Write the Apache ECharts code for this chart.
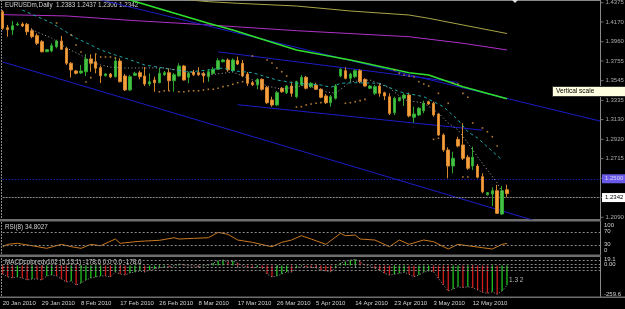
<!DOCTYPE html>
<html><head><meta charset="utf-8">
<script src="https://cdn.jsdelivr.net/npm/echarts@6/dist/echarts.min.js"></script>
<style>html,body{margin:0;padding:0;background:#000;}#c{width:625px;height:309px;}</style>
</head><body><div id="c"></div>
<script>
const dates = ['20 Jan 2010','21 Jan 2010','22 Jan 2010','24 Jan 2010','25 Jan 2010','26 Jan 2010','27 Jan 2010','28 Jan 2010','29 Jan 2010','31 Jan 2010',
'1 Feb 2010','2 Feb 2010','3 Feb 2010','4 Feb 2010','5 Feb 2010','7 Feb 2010','8 Feb 2010','9 Feb 2010','10 Feb 2010','11 Feb 2010',
'12 Feb 2010','14 Feb 2010','15 Feb 2010','16 Feb 2010','17 Feb 2010','18 Feb 2010','19 Feb 2010','21 Feb 2010','22 Feb 2010','23 Feb 2010',
'24 Feb 2010','25 Feb 2010','26 Feb 2010','28 Feb 2010','1 Mar 2010','2 Mar 2010','3 Mar 2010','4 Mar 2010','5 Mar 2010','7 Mar 2010',
'8 Mar 2010','9 Mar 2010','10 Mar 2010','11 Mar 2010','12 Mar 2010','14 Mar 2010','15 Mar 2010','16 Mar 2010','17 Mar 2010','18 Mar 2010',
'19 Mar 2010','21 Mar 2010','22 Mar 2010','23 Mar 2010','24 Mar 2010','25 Mar 2010','26 Mar 2010','28 Mar 2010','29 Mar 2010','30 Mar 2010',
'31 Mar 2010','1 Apr 2010','2 Apr 2010','4 Apr 2010','5 Apr 2010','6 Apr 2010','7 Apr 2010','8 Apr 2010','9 Apr 2010','11 Apr 2010',
'12 Apr 2010','13 Apr 2010','14 Apr 2010','15 Apr 2010','16 Apr 2010','18 Apr 2010','19 Apr 2010','20 Apr 2010','21 Apr 2010','22 Apr 2010',
'23 Apr 2010','25 Apr 2010','26 Apr 2010','27 Apr 2010','28 Apr 2010','29 Apr 2010','30 Apr 2010','2 May 2010','3 May 2010','4 May 2010',
'5 May 2010','6 May 2010','7 May 2010','9 May 2010','10 May 2010','11 May 2010','12 May 2010','13 May 2010','14 May 2010','16 May 2010',
'17 May 2010','18 May 2010','19 May 2010','20 May 2010'];

const openP = [1.4279,1.4109,1.4085,1.4138,1.4148,1.4145,1.4077,1.4024,1.3960,1.3853,
1.3861,1.3907,1.3967,1.3890,1.3730,1.3648,1.3627,1.3640,1.3776,1.3747,
1.3683,1.3598,1.3616,1.3587,1.3754,1.3595,1.3446,1.3602,1.3630,1.3595,
1.3509,1.3552,1.3523,1.3608,1.3630,1.3545,1.3595,1.3701,1.3581,1.3637,
1.3630,1.3623,1.3587,1.3623,1.3666,1.3747,1.3765,1.3651,1.3758,1.3730,
1.3616,1.3523,1.3499,1.3559,1.3474,1.3339,1.3286,1.3464,1.3417,1.3488,
1.3374,1.3499,1.3581,1.3481,1.3499,1.3453,1.3382,1.3310,1.3357,1.3595,
1.3651,1.3570,1.3587,1.3651,1.3559,1.3464,1.3410,1.3488,1.3417,1.3374,
1.3204,1.3332,1.3357,1.3392,1.3155,1.3179,1.3225,1.3321,1.3304,1.3190,
1.2966,1.2807,1.2636,1.2920,1.2860,1.2729,1.2636,1.2636,1.2522,1.2330,
1.2338,1.2373,1.2125,1.2383];
const highP = [1.4297,1.4138,1.4180,1.4167,1.4167,1.4159,1.4103,1.4049,1.3978,1.3882,
1.3943,1.3981,1.4021,1.3907,1.3744,1.3659,1.3712,1.3826,1.3826,1.3826,
1.3701,1.3627,1.3627,1.3789,1.3783,1.3616,1.3605,1.3640,1.3651,1.3690,
1.3623,1.3587,1.3677,1.3648,1.3677,1.3627,1.3730,1.3712,1.3640,1.3659,
1.3687,1.3640,1.3666,1.3690,1.3783,1.3776,1.3783,1.3783,1.3800,1.3765,
1.3637,1.3541,1.3570,1.3570,1.3488,1.3374,1.3435,1.3477,1.3499,1.3534,
1.3545,1.3605,1.3595,1.3531,1.3523,1.3464,1.3403,1.3392,1.3509,1.3677,
1.3687,1.3630,1.3666,1.3666,1.3570,1.3499,1.3499,1.3517,1.3427,1.3410,
1.3374,1.3371,1.3410,1.3417,1.3268,1.3264,1.3332,1.3332,1.3321,1.3197,
1.2984,1.2835,1.2788,1.2948,1.3091,1.2753,1.2842,1.2657,1.2558,1.2359,
1.2409,1.2434,1.2423,1.2437];
const lowP = [1.4085,1.4013,1.4031,1.4130,1.4116,1.4031,1.3996,1.3925,1.3847,1.3850,
1.3847,1.3890,1.3872,1.3712,1.3577,1.3611,1.3616,1.3595,1.3640,1.3623,
1.3520,1.3589,1.3573,1.3577,1.3527,1.3435,1.3435,1.3595,1.3559,1.3488,
1.3488,1.3427,1.3517,1.3595,1.3438,1.3427,1.3587,1.3545,1.3517,1.3595,
1.3595,1.3523,1.3534,1.3611,1.3659,1.3738,1.3640,1.3640,1.3712,1.3581,
1.3488,1.3488,1.3453,1.3438,1.3296,1.3268,1.3275,1.3417,1.3403,1.3374,
1.3357,1.3488,1.3451,1.3467,1.3446,1.3357,1.3296,1.3268,1.3344,1.3581,
1.3559,1.3534,1.3573,1.3517,1.3481,1.3456,1.3392,1.3374,1.3339,1.3179,
1.3179,1.3323,1.3275,1.3155,1.3097,1.3169,1.3197,1.3286,1.3161,1.2956,
1.2788,1.2505,1.2558,1.2835,1.2700,1.2594,1.2594,1.2505,1.2345,1.2322,
1.2210,1.2125,1.2114,1.2306];
const closeP = [1.4103,1.4088,1.4130,1.4148,1.4127,1.4066,1.4013,1.3943,1.3853,1.3875,
1.3917,1.3967,1.3879,1.3730,1.3659,1.3623,1.3648,1.3776,1.3730,1.3677,
1.3598,1.3616,1.3584,1.3754,1.3534,1.3446,1.3587,1.3623,1.3587,1.3509,
1.3534,1.3523,1.3623,1.3630,1.3545,1.3608,1.3701,1.3552,1.3623,1.3608,
1.3608,1.3595,1.3640,1.3666,1.3758,1.3765,1.3659,1.3765,1.3722,1.3595,
1.3517,1.3502,1.3559,1.3453,1.3310,1.3286,1.3417,1.3427,1.3488,1.3410,
1.3534,1.3581,1.3464,1.3517,1.3453,1.3368,1.3310,1.3374,1.3488,1.3666,
1.3570,1.3616,1.3651,1.3534,1.3488,1.3488,1.3481,1.3410,1.3382,1.3197,
1.3357,1.3363,1.3392,1.3169,1.3190,1.3251,1.3304,1.3296,1.3179,1.2966,
1.2807,1.2636,1.2718,1.2849,1.2718,1.2612,1.2729,1.2516,1.2362,1.2352,
1.2373,1.2132,1.2373,1.2342];

// moving averages / trend lines as [bar index, price]
const maOlive = [[35,1.4420],[42,1.4386],[48,1.4369],[60,1.4340],[71,1.4287],[83,1.4244],[87,1.4209],[94,1.4138],[103,1.4047]];
const maMagenta = [[0,1.4248],[13,1.4234],[27,1.4184],[40,1.4145],[60,1.4077],[83,1.4013],[94,1.3943],[103,1.3872]];
const maGreen = [[20,1.4470],[26,1.4404],[42,1.4156],[47,1.4085],[60,1.3872],[71,1.3765],[83,1.3630],[87,1.3605],[94,1.3481],[103,1.3353]];
const trendLong = [[20,1.4405],[122,1.3115]];
const trendUpper = [[44,1.3852],[93,1.3527]];
const trendMiddle = [[48,1.3289],[98,1.3018]];
const trendLower = [[0,1.3744],[110,1.2033]];
const tealBand = [[4,1.4297],[10,1.4159],[12,1.4095],[15,1.3999],[18,1.3925],[20,1.3872],[23,1.3818],[25,1.3786],[29,1.3712],[34,1.3669],[38,1.3637],[42,1.3659],[45,1.3680],[47,1.3651],[51,1.3630],[56,1.3552],[60,1.3517],[65,1.3499],[67,1.3474],[69,1.3517],[72,1.3523],[77,1.3517],[81,1.3427],[86,1.3374],[90,1.3268],[93,1.3126],[95,1.3001],[97,1.2934],[102,1.2700]];
const grayMA = [[6,1.4085],[10,1.3999],[13,1.3893],[16,1.3818],[18,1.3744],[20,1.3712],[22,1.3690],[25,1.3680],[33,1.3680],[38,1.3637],[42,1.3605],[47,1.3637],[52,1.3534],[54,1.3488],[57,1.3453],[62,1.3499],[66,1.3427],[68,1.3410],[71,1.3534],[75,1.3552],[79,1.3467],[82,1.3339],[86,1.3307],[89,1.3201],[91,1.3094],[93,1.3020],[95,1.2881],[97,1.2732],[99,1.2594],[101,1.2455],[102,1.2359]];
const sarDots = [[11,1.4159],[14,1.4031],[15,1.3925],[16,1.3850],[17,1.3531],[18,1.3577],[19,1.3829],[20,1.3797],[21,1.3797],[22,1.3797],[23,1.3786],
[32,1.3427],[33,1.3437],[34,1.3437],[36,1.3427],[37,1.3427],[38,1.3435],[39,1.3437],[40,1.3437],[41,1.3445],[42,1.3453],[43,1.3453],[44,1.3464],[45,1.3481],[46,1.3491],[47,1.3506],[48,1.3523],[49,1.3534],[50,1.3545],
[51,1.3808],[54,1.3765],[55,1.3733],[56,1.3680],[57,1.3640],[58,1.3595],
[60,1.3264],[61,1.3268],[62,1.3286],[63,1.3296],[64,1.3304],[65,1.3311],[66,1.3321],[70,1.3304],[71,1.3311],[72,1.3321],[73,1.3332],[74,1.3346],
[80,1.3659],[81,1.3623],[82,1.3605],[83,1.3595],[84,1.3587],[85,1.3534],[86,1.3509],[87,1.3488],[89,1.3410],[91,1.3304],
[88,1.2920],[89,1.2931],[92,1.3517],[93,1.3509],[94,1.3410],[95,1.3368],[96,1.3094],[98,1.3041],[99,1.3001],[100,1.2948],[101,1.2849],[94,1.2519],[95,1.2519]];
const bidPrice = 1.2342;
const alertPrice = 1.2500;
const priceTicks = ['1.4375','1.4170','1.3960','1.3755','1.3545','1.3335','1.3130','1.2920','1.2715','1.2505','1.2300','1.2090'];

const rsiPts = [[0,24.6],[1,32.1],[3,35.3],[6,27.7],[9,19.5],[12,32.1],[14,24.6],[16,19.5],[18,32.1],[20,27.7],[23,48.8],[24,35.3],[27,40.3],[29,42.5],[32,44.7],[35,52.9],[36,48.8],[39,51.0],[42,52.9],[44,69.9],[46,63.6],[48,45.7],[51,38.4],[54,27.7],[55,24.6],[57,38.4],[59,45.7],[61,59.2],[63,48.8],[66,32.1],[69,66.8],[70,59.2],[72,61.4],[73,48.8],[76,45.7],[79,24.6],[81,45.7],[83,32.1],[86,45.7],[88,40.3],[91,17.3],[93,32.1],[95,27.7],[98,21.4],[100,17.3],[102,32.1],[103,34.8]];
const rsiLevels = [70, 30];

// MACD (5,13,1): signal period 1, so the signal line equals the main line
const macdHist = [-76.6,-100.9,-112.6,-103.6,-112.6,-130.6,-121.6,-121.6,-130.6,-94.6,
-85.6,-94.6,-121.6,-148.7,-139.7,-175.7,-157.7,-130.6,-112.6,-103.6,
-94.6,-94.6,-103.6,-58.6,-76.6,-85.6,-67.6,-58.6,-49.6,-58.6,
-40.5,-31.5,-22.5,-13.5,-13.5,-4.5,13.5,4.5,-4.5,-4.5,
-9,-4.5,4.5,22.5,40.5,49.6,31.5,40.5,22.5,-4.5,
-13.5,-22.5,-13.5,-22.5,-76.6,-103.6,-94.6,-76.6,-58.6,-58.6,
-22.5,-4.5,-13.5,-13.5,-22.5,-40.5,-49.6,-55.9,-22.5,22.5,
34.2,49.6,55.9,34.2,4.5,-2,-25.2,-40.5,-70.3,-85.6,
-79.3,-70.3,-61.3,-79.3,-100.9,-85.6,-61.3,-49.6,-55.9,-115.3,
-175.7,-229.8,-211.7,-191,-200,-191,-200,-220.7,-241.5,-250.5,
-236.1,-259.6,-229.8,-178.6];
const macdLevels = [43.2, 13.5, -16.2, -46.9];

const EXTRA = 19;
const cats = dates.concat(Array.from({length: EXTRA}, (_, i) => '_' + i));
const lastIdx = cats.length - 1;
const candleData = openP.map((o, i) => [o, closeP[i], lowP[i], highP[i]]);
const F = '"Liberation Sans", Arial, sans-serif';
const TXT = '#d2d2d2';

const chart = echarts.init(document.getElementById('c'), null, {renderer: 'canvas', width: 625, height: 309});

const gridBase = {left: 2.7, width: 597.3, outerBoundsMode: 'none', containLabel: false};
const xBase = (gi, showLabels) => ({
  type: 'category', gridIndex: gi, data: cats, boundaryGap: false,
  axisLine: {show: false}, splitLine: {show: false},
  axisTick: {show: showLabels, interval: (i) => i % 8 === 0 && i <= 96, length: 2, inside: false, lineStyle: {color: '#9a9a9a'}},
  axisLabel: {show: showLabels, interval: (i) => i % 8 === 0 && i <= 96, align: 'left', margin: 4, color: TXT, fontSize: 6, fontFamily: F}
});

const lineS = (data, color, width, type, z) => ({
  type: 'line', xAxisIndex: 0, yAxisIndex: 0, data, symbol: 'none', silent: true, z: z || 3,
  lineStyle: {color, width, type: type || 'solid'}, clip: true
});

chart.setOption({
  backgroundColor: '#000',
  animation: false,
  grid: [
    Object.assign({top: 1, height: 218}, gridBase),
    Object.assign({top: 222.8, height: 31.7}, gridBase),
    Object.assign({top: 257, height: 39.5}, gridBase)
  ],
  xAxis: [xBase(0, false), xBase(1, false), xBase(2, true)],
  yAxis: [
    {type: 'value', gridIndex: 0, min: 1.20717, max: 1.43933, show: false, splitLine: {show: false}},
    {type: 'value', gridIndex: 1, min: 0, max: 100, show: false, splitLine: {show: false}},
    {type: 'value', gridIndex: 2, min: -279.3, max: 76.6, show: false, splitLine: {show: false}}
  ],
  series: [
    {
      type: 'candlestick', xAxisIndex: 0, yAxisIndex: 0, data: candleData, barWidth: 3, z: 5,
      itemStyle: {color: '#46c046', color0: '#f2a040', borderColor: '#2fa82f', borderColor0: '#d8862c', borderWidth: 1},
      markLine: {
        silent: true, symbol: 'none', animation: false,
        data: [
          {yAxis: alertPrice, lineStyle: {color: '#2a2aff', width: 1, type: [1, 2]},
           label: {formatter: alertPrice.toFixed(4), backgroundColor: '#6a5ae8', color: '#d8d8ff', padding: [2, 3, 1, 3]}},
          {yAxis: bidPrice, lineStyle: {color: '#8a8a8a', width: 1, type: [2, 1]},
           label: {formatter: bidPrice.toFixed(4), backgroundColor: '#ffffff', color: '#000', padding: [2, 3, 1, 3]}}
        ],
        label: {show: true, position: 'end', distance: 2, fontSize: 6, fontFamily: F}
      }
    },
    {
      type: 'scatter', xAxisIndex: 0, yAxisIndex: 0, silent: true, clip: false, z: 1,
      data: priceTicks.map(t => [lastIdx, parseFloat(t)]),
      symbol: 'rect', symbolSize: [3, 1], symbolOffset: [2, 0], itemStyle: {color: '#8a8a8a'},
      label: {show: true, position: 'right', distance: 2, color: TXT, fontSize: 6, fontFamily: F,
        formatter: (p) => priceTicks[p.dataIndex]}
    },
    lineS(maOlive, '#a9a448', 1),
    lineS(maMagenta, '#b030c8', 1),
    lineS(maGreen, '#2fe02f', 1.6, 'solid', 4),
    lineS(trendLong, '#1c1cc8', 1),
    lineS(trendUpper, '#1c1cc8', 1),
    lineS(trendMiddle, '#1c1cc8', 1),
    lineS(trendLower, '#1c1cc8', 1),
    lineS(tealBand, '#1aa8a8', 1, [3, 3], 6),
    lineS(grayMA, '#a8a8a8', 1, [1, 2.5], 6),
    {type: 'scatter', xAxisIndex: 0, yAxisIndex: 0, data: sarDots, symbol: 'rect', symbolSize: 1.6, silent: true, z: 6,
     itemStyle: {color: '#e09a40'}},
    {
      type: 'line', xAxisIndex: 1, yAxisIndex: 1, data: rsiPts, symbol: 'none', silent: true,
      lineStyle: {color: '#c87820', width: 1},
      markLine: {silent: true, symbol: 'none', label: {show: false},
        data: rsiLevels.map(v => ({yAxis: v})), lineStyle: {color: '#8a8a8a', type: [2, 2], width: 1}}
    },
    {
      type: 'bar', xAxisIndex: 2, yAxisIndex: 2, data: macdHist, barWidth: 1.3, silent: true,
      itemStyle: {color: (p) => (p.dataIndex > 0 && macdHist[p.dataIndex] > macdHist[p.dataIndex - 1]) ? '#1fc21f' : '#d01c1c'},
      markLine: {silent: true, symbol: 'none', label: {show: false},
        data: macdLevels.map(v => ({yAxis: v})), lineStyle: {color: '#8a8a8a', type: [2, 2], width: 1}}
    },
    {
      type: 'line', xAxisIndex: 2, yAxisIndex: 2, data: macdHist, symbol: 'none', silent: true, z: 4,
      lineStyle: {color: '#9a9a9a', width: 1, type: [1, 2]}
    }
  ],
  graphic: [
    {type: 'line', shape: {x1: 0, y1: 0.5, x2: 600, y2: 0.5}, style: {stroke: '#8a8a8a', lineWidth: 1}, silent: true},
    {type: 'line', shape: {x1: 1.5, y1: 0, x2: 1.5, y2: 298}, style: {stroke: '#8a8a8a', lineWidth: 1, lineDash: [2, 1]}, silent: true},
    {type: 'line', shape: {x1: 600.5, y1: 0, x2: 600.5, y2: 298}, style: {stroke: '#8a8a8a', lineWidth: 1}, silent: true},
    {type: 'rect', shape: {x: 0, y: 219, width: 601, height: 2.5}, style: {fill: '#6e6e6e'}, silent: true},
    {type: 'rect', shape: {x: 0, y: 254.5, width: 601, height: 2.5}, style: {fill: '#6e6e6e'}, silent: true},
    {type: 'rect', shape: {x: 0, y: 296.5, width: 625, height: 1.5}, style: {fill: '#6e6e6e'}, silent: true},
    {type: 'polygon', shape: {points: [[512, 0], [518, 0], [515, 3]]}, style: {fill: '#e0e0e0'}, silent: true},
    {type: 'text', x: 5, y: 5.5, silent: true, style: {text: 'EURUSDm,Daily  1.2383 1.2437 1.2306 1.2342', fill: TXT, font: '6.3px ' + F, verticalAlign: 'middle'}},
    {type: 'text', x: 5, y: 227.3, silent: true, style: {text: 'RSI(8) 34.8027', fill: TXT, font: '6.3px ' + F, verticalAlign: 'middle'}},
    {type: 'text', x: 5, y: 262.7, silent: true, style: {text: 'MACDcoloredv102 (5,13,1) -178.6 0.0 0.0 -178.6', fill: TXT, font: '6.3px ' + F, verticalAlign: 'middle'}},
    {type: 'text', x: 604, y: 225, silent: true, style: {text: '100', fill: TXT, font: '6px ' + F, verticalAlign: 'middle'}},
    {type: 'text', x: 604, y: 231, silent: true, style: {text: '70', fill: TXT, font: '6px ' + F, verticalAlign: 'middle'}},
    {type: 'text', x: 604, y: 244.3, silent: true, style: {text: '30', fill: TXT, font: '6px ' + F, verticalAlign: 'middle'}},
    {type: 'text', x: 604, y: 250.7, silent: true, style: {text: '0', fill: TXT, font: '6px ' + F, verticalAlign: 'middle'}},
    {type: 'text', x: 604, y: 259.6, silent: true, style: {text: '19.1', fill: TXT, font: '6px ' + F, verticalAlign: 'middle'}},
    {type: 'text', x: 604, y: 264.5, silent: true, style: {text: '0.00', fill: TXT, font: '6px ' + F, verticalAlign: 'middle'}},
    {type: 'text', x: 604, y: 294, silent: true, style: {text: '-259.6', fill: TXT, font: '6px ' + F, verticalAlign: 'middle'}},
    {type: 'text', x: 509, y: 280, silent: true, style: {text: '1.3 2', fill: '#b8b8b8', font: '6.5px ' + F, verticalAlign: 'middle'}},
    {type: 'rect', shape: {x: 552.5, y: 86.5, width: 73, height: 10}, style: {fill: '#ffffe1', stroke: '#333', lineWidth: 1}, silent: true, z: 100},
    {type: 'text', x: 556, y: 91.7, silent: true, z: 101, style: {text: 'Vertical scale', fill: '#000', font: '6.5px ' + F, verticalAlign: 'middle'}}
  ]
});
</script>
</body></html>
